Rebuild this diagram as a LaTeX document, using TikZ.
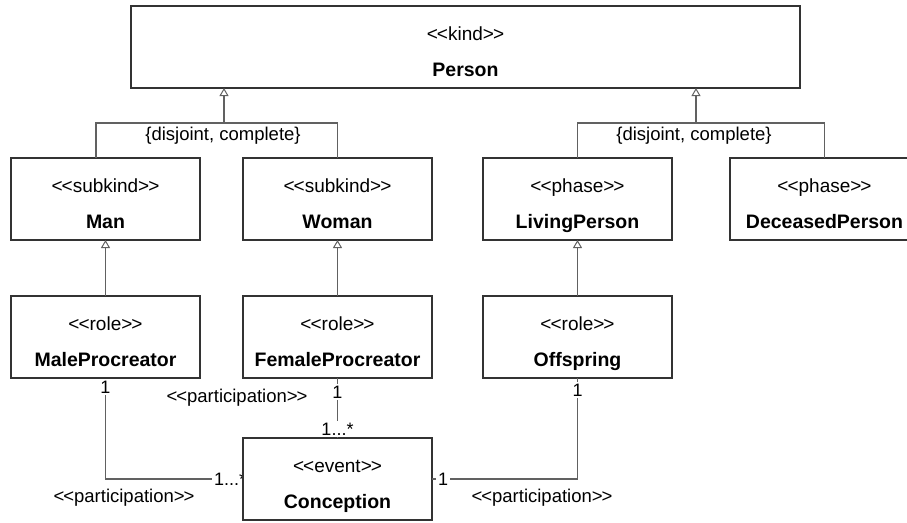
\documentclass[tikz,border=0pt]{standalone}
\usepackage{fontspec}
\setmainfont{Liberation Sans}
\usetikzlibrary{arrows.meta,calc,backgrounds}

\tikzset{
  umlbox/.style={draw=black!80, line width=1.1pt, fill=white, minimum height=82pt,
                 anchor=north west, inner sep=0pt, outer sep=0pt},
  stereo/.style={font=\fontsize{19}{22}\selectfont, inner sep=0pt, anchor=base},
  cname/.style={font=\fontsize{19.5}{23}\selectfont\bfseries, inner sep=0pt, anchor=base},
  link/.style={draw=black!62, line width=1.1pt},
  gen/.style={link, -{Triangle[open, length=8pt, width=9pt, line width=1pt]}},
  mult/.style={font=\fontsize{18}{20}\selectfont, fill=white, inner sep=2pt},
  note/.style={font=\fontsize{18.5}{21}\selectfont, inner sep=0pt},
}

% guillemet-style stereotype brackets
\newcommand\stereotype[1]{<\kern-1pt<#1>\kern-1pt>}

% class box: name, x, y (top left), width, stereotype, class name
\newcommand\umlclass[6]{%
  \node[umlbox, minimum width=#4pt] (#1) at (#2,#3) {};
  \node[stereo] (#1-st) at ($(#1.north)+(0,34)$) {\stereotype{#5}};
  \node[cname] (#1-nm) at ($(#1.north)+(0,70)$) {#6};
}

\begin{document}
\begin{tikzpicture}[x=1pt, y=-1pt]
  \useasboundingbox (0,0) rectangle (907,522);
  \clip (0,0) rectangle (907,522);

  % classes
  \umlclass{person}{131}{6}{669}{kind}{Person}
  \umlclass{man}{11}{158}{189}{subkind}{Man}
  \umlclass{woman}{243}{158}{189}{subkind}{Woman}
  \umlclass{living}{483}{158}{189}{phase}{LivingPerson}
  \umlclass{deceased}{730}{158}{189}{phase}{DeceasedPerson}
  \umlclass{male}{11}{296}{189}{role}{MaleProcreator}
  \umlclass{female}{243}{296}{189}{role}{FemaleProcreator}
  \umlclass{offspring}{483}{296}{189}{role}{Offspring}
  \umlclass{conception}{243}{438}{189}{event}{Conception}

  % generalization set Man / Woman
  \coordinate (gsl) at (224,123);
  \coordinate (gsl-a) at (96,123);
  \draw[gen] (gsl) -- (gsl |- person.south);
  \draw[link] (gsl-a |- man.north) -- (gsl-a) -- (gsl -| woman.north) -- (woman.north);
  \node[note] (gsl-lbl) at (223,136) {\{disjoint, complete\}};

  % generalization set LivingPerson / DeceasedPerson
  \coordinate (gsr) at (696,123);
  \draw[gen] (gsr) -- (gsr |- person.south);
  \draw[link] (living.north) -- (gsr -| living.north) -- (gsr -| deceased.north) -- (deceased.north);
  \node[note] (gsr-lbl) at (694,136) {\{disjoint, complete\}};

  % specializations of roles
  \draw[gen] (male.north) -- (man.south);
  \draw[gen] (female.north) -- (woman.south);
  \draw[gen] (offspring.north) -- (living.south);

  % participations in the conception event
  \begin{pgfonlayer}{background}
    \draw[link] (male.south) -- (male.south |- conception.west) -- (conception.west);
    \node[mult, anchor=west] (m-many) at ($(conception.west)+(-31,0)$) {1...*};
  \end{pgfonlayer}
  \node[mult] (m-one) at ($(male.south)+(0,9)$) {1};
  \node[note] (m-part) at (124,498) {\stereotype{participation}};

  \draw[link] (female.south) -- (conception.north);
  \node[mult] (f-one) at ($(female.south)+(0,14)$) {1};
  \node[mult] (f-many) at ($(conception.north)+(0,-9)$) {1...*};
  \node[note] (f-part) at (237,398) {\stereotype{participation}};

  \draw[link] (offspring.south) -- (offspring.south |- conception.east) -- (conception.east);
  \node[mult] (o-one) at ($(offspring.south)+(0,12)$) {1};
  \node[mult, anchor=west] (c-one) at ($(conception.east)+(4,0)$) {1};
  \node[note] (o-part) at (542,498) {\stereotype{participation}};
\end{tikzpicture}
\end{document}
